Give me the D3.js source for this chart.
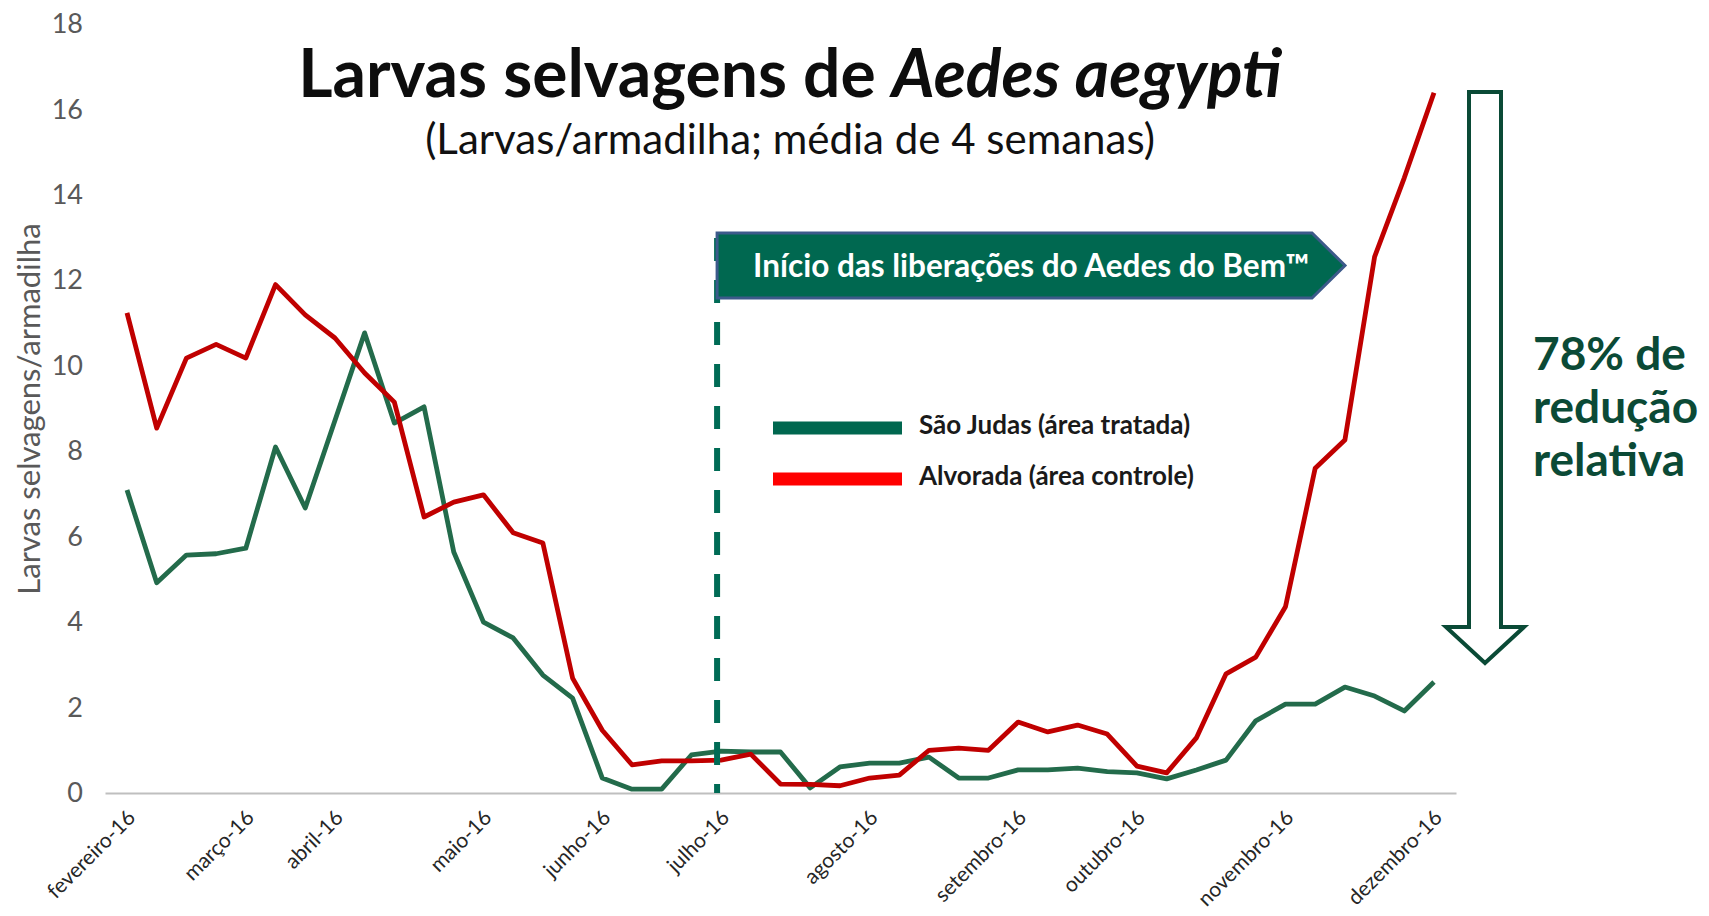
<!DOCTYPE html>
<html>
<head>
<meta charset="utf-8">
<script src="https://cdn.jsdelivr.net/npm/d3@7"></script>
<style>
  body { margin: 0; background: #fff; }
  svg { display: block; font-family: Lato, "Open Sans", sans-serif; }
</style>
</head>
<body>
<svg id="chart"></svg>
<script>
// weekly samples, feb -> dec 2016 (4 week average)
var weeks = d3.range(1, 46)

var saoJudas = [7.09, 4.92, 5.57, 5.6, 5.73, 8.1, 6.67, 8.72, 10.77, 8.66,
    9.04, 5.64, 4.0, 3.63, 2.76, 2.22, 0.35, 0.09, 0.09, 0.89,
    0.98, 0.96, 0.96, 0.12, 0.61, 0.7, 0.7, 0.84, 0.35, 0.35,
    0.54, 0.54, 0.58, 0.5, 0.47, 0.33, 0.54, 0.77, 1.69, 2.08,
    2.08, 2.48, 2.27, 1.92, 2.6]

var alvorada = [11.24, 8.54, 10.18, 10.5, 10.18, 11.9, 11.19, 10.65, 9.83, 9.15,
    6.46, 6.81, 6.98, 6.09, 5.85, 2.69, 1.47, 0.66, 0.75, 0.75,
    0.77, 0.91, 0.21, 0.2, 0.17, 0.35, 0.42, 1.0, 1.05, 1.0,
    1.66, 1.43, 1.59, 1.38, 0.63, 0.47, 1.29, 2.79, 3.18, 4.36,
    7.6, 8.26, 12.55, 14.4, 16.39]

var monthLabels = ["fevereiro-16", "março-16", "abril-16", "maio-16", "junho-16", "julho-16",
    "agosto-16", "setembro-16", "outubro-16", "novembro-16", "dezembro-16"]
var monthWeeks = [1, 5, 8, 13, 17, 21, 26, 31, 35, 40, 45]

var yTicks = [0, 2, 4, 6, 8, 10, 12, 14, 16, 18]
var releaseWeek = 21

var series = [
    { name: "São Judas (área tratada)", values: saoJudas, color: "#236b4b", legend: "#00674f" },
    { name: "Alvorada (área controle)", values: alvorada, color: "#c00000", legend: "#ff0000" }
]

var width = 1709, height = 916

var svg = d3.select("#chart")
    .attr("width", width)
    .attr("height", height)

var xScale = d3.scalePoint()
    .domain(weeks)
    .range([105, 1456])
    .padding(0.741)

var yScale = d3.scaleLinear()
    .domain([0, 18])
    .range([793, 24])

// y axis, labels only
svg.append("g")
    .attr("transform", "translate(105,0)")
    .call(d3.axisLeft(yScale).tickValues(yTicks).tickSize(0).tickPadding(22))
    .call(function (g) { g.select(".domain").remove() })
    .selectAll("text")
    .style("font-family", "Lato")
    .style("font-size", "27px")
    .attr("fill", "#595959")

svg.append("text")
    .attr("transform", "translate(40,409) rotate(-90)")
    .attr("text-anchor", "middle")
    .style("font-size", "31px")
    .attr("fill", "#595959")
    .text("Larvas selvagens/armadilha")

// x axis
var xAxis = svg.append("g")
    .attr("transform", "translate(0," + yScale(0) + ")")
    .call(d3.axisBottom(xScale)
        .tickValues(monthWeeks)
        .tickSize(0)
        .tickFormat(function (d, i) { return monthLabels[i] }))

xAxis.select(".domain")
    .attr("stroke", "#bfbfbf")
    .attr("stroke-width", 2)

xAxis.selectAll("text")
    .attr("y", 0)
    .attr("x", 0)
    .attr("dy", null)
    .attr("transform", "translate(9,26) rotate(-45)")
    .style("text-anchor", "end")
    .style("font-family", "Lato")
    .style("font-size", "21px")
    .attr("fill", "#262626")

// lines
var line = d3.line()
    .x(function (d, i) { return xScale(weeks[i]) })
    .y(function (d) { return yScale(d) })

svg.append("g")
    .selectAll("path")
    .data(series)
    .enter().append("path")
    .attr("d", function (d) { return line(d.values) })
    .attr("fill", "none")
    .attr("stroke", function (d) { return d.color })
    .attr("stroke-width", 4.8)
    .attr("stroke-linejoin", "round")

// start of releases marker
var rx = xScale(releaseWeek) - 4
svg.append("line")
    .attr("x1", rx)
    .attr("x2", rx)
    .attr("y1", 238)
    .attr("y2", yScale(0))
    .attr("stroke", "#006b55")
    .attr("stroke-width", 6)
    .attr("stroke-dasharray", "23,19")

svg.append("path")
    .attr("d", "M" + rx + ",233 H1312 L1345,265.5 L1312,298 H" + rx + " Z")
    .attr("fill", "#006850")
    .attr("stroke", "#3c5a8a")
    .attr("stroke-width", 3)

svg.append("text")
    .attr("x", rx + 36)
    .attr("y", 277)
    .attr("fill", "#fff")
    .style("font-size", "31.5px")
    .style("font-weight", 700)
    .text("Início das liberações do Aedes do Bem™")

// legend
var legend = svg.append("g")
    .attr("transform", "translate(773,428)")

var item = legend.selectAll("g")
    .data(series)
    .enter().append("g")
    .attr("transform", function (d, i) { return "translate(0," + (i * 51) + ")" })

item.append("line")
    .attr("x1", 0).attr("x2", 129)
    .attr("stroke", function (d) { return d.legend })
    .attr("stroke-width", 13)

item.append("text")
    .attr("x", 146)
    .attr("y", 6)
    .attr("fill", "#1a1a1a")
    .style("font-size", "26px")
    .style("font-weight", 700)
    .text(function (d) { return d.name })

// titles
var title = svg.append("text")
    .attr("x", 790)
    .attr("y", 97)
    .attr("text-anchor", "middle")
    .attr("fill", "#0d0d0d")
    .style("font-size", "66px")
    .style("font-weight", 700)
title.append("tspan").text("Larvas selvagens de ")
title.append("tspan").style("font-style", "italic").text("Aedes aegypti")

svg.append("text")
    .attr("x", 790)
    .attr("y", 154)
    .attr("text-anchor", "middle")
    .attr("fill", "#111")
    .style("font-size", "42px")
    .text("(Larvas/armadilha; média de 4 semanas)")

// reduction arrow
svg.append("path")
    .attr("d", "M1469,92 H1501 V627 H1524 L1485,663 L1446,627 H1469 Z")
    .attr("fill", "#fff")
    .attr("stroke", "#0a4a36")
    .attr("stroke-width", 4)

svg.append("text")
    .attr("fill", "#0b4a36")
    .style("font-size", "46px")
    .style("font-weight", 700)
    .selectAll("tspan")
    .data(["78% de", "redução", "relativa"])
    .enter().append("tspan")
    .attr("x", 1533)
    .attr("y", function (d, i) { return 370 + i * 53 })
    .text(function (d) { return d })
</script>
</body>
</html>
